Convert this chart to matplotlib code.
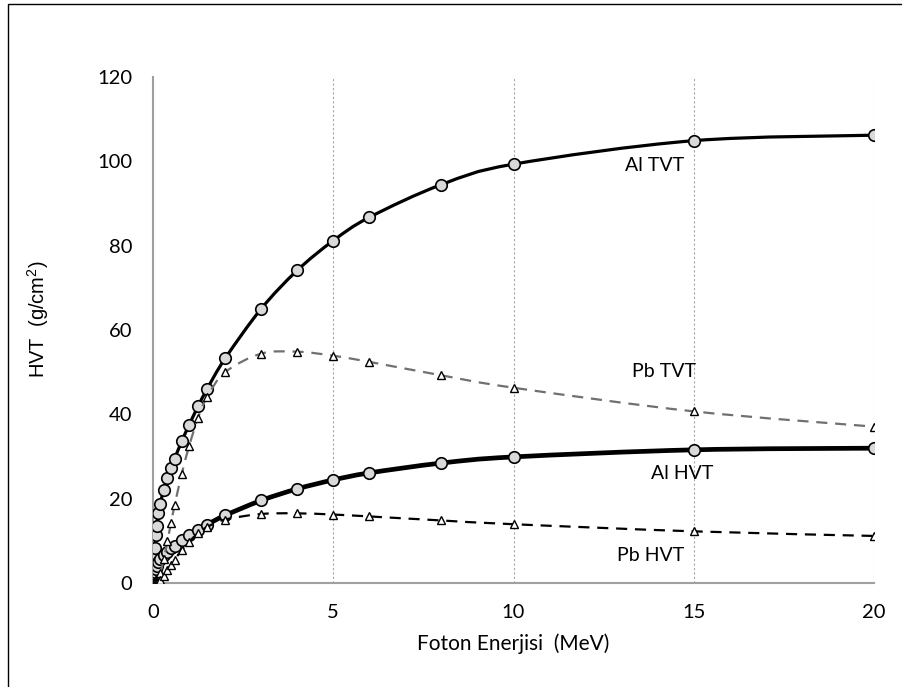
import numpy as np
import matplotlib
matplotlib.use("Agg")
import matplotlib.pyplot as plt
from matplotlib.path import Path
from matplotlib.patches import PathPatch, Rectangle

plt.rcParams["mathtext.fontset"] = "custom"
plt.rcParams["mathtext.rm"] = "Liberation Sans"
plt.rcParams["mathtext.it"] = "Liberation Sans"

# ---- data ----
energy = [0.01, 0.015, 0.02, 0.03, 0.04, 0.05, 0.06, 0.08, 0.1, 0.15, 0.2,
          0.3, 0.4, 0.5, 0.6, 0.8, 1.0, 1.25, 1.5, 2, 3, 4, 5, 6, 8, 10, 15, 20]

al_tvt = [0.09, 0.29, 0.67, 2.04, 4.05, 6.26, 8.29, 11.41, 13.51, 16.71, 18.83,
          22.10, 24.82, 27.27, 29.51, 33.66, 37.46, 41.90, 46.00, 53.25, 65.02,
          74.13, 81.19, 86.72, 94.48, 99.33, 104.90, 106.20]
al_hvt = [0.03, 0.09, 0.20, 0.61, 1.22, 1.88, 2.50, 3.43, 4.07, 5.03, 5.67,
          6.65, 7.47, 8.21, 8.88, 10.13, 11.28, 12.61, 13.85, 16.03, 19.57,
          22.32, 24.44, 26.11, 28.44, 29.90, 31.58, 31.97]
pb_tvt = [0.02, 0.02, 0.03, 0.08, 0.16, 0.29, 0.46, 0.95, 0.42, 1.14, 2.31,
          5.71, 9.91, 14.27, 18.45, 25.96, 32.42, 39.19, 44.09, 49.99, 54.38,
          54.86, 53.90, 52.44, 49.25, 46.31, 40.70, 37.08]
pb_hvt = [0.01, 0.01, 0.01, 0.02, 0.05, 0.09, 0.14, 0.29, 0.13, 0.34, 0.69,
          1.72, 2.98, 4.30, 5.55, 7.81, 9.76, 11.80, 13.27, 15.05, 16.37,
          16.52, 16.23, 15.79, 14.83, 13.94, 12.25, 11.16]

labels = ["Al TVT", "Pb TVT", "Al HVT", "Pb HVT"]
label_pos = [(13.91, 98.9), (14.17, 50.1), (14.67, 26.0), (13.79, 6.6)]

x_ticks = [0, 5, 10, 15, 20]
y_ticks = [0, 20, 40, 60, 80, 100, 120]

FONT = ["Lato", "DejaVu Sans"]


def smooth_path(x, y):
    """Excel-like smoothed line as cubic Bezier segments (Catmull-Rom)."""
    x = np.asarray(x, float)
    y = np.asarray(y, float)
    n = len(x)
    verts = [(x[0], y[0])]
    codes = [Path.MOVETO]
    for i in range(n - 1):
        p0 = np.array([x[max(i - 1, 0)], y[max(i - 1, 0)]])
        p1 = np.array([x[i], y[i]])
        p2 = np.array([x[i + 1], y[i + 1]])
        p3 = np.array([x[min(i + 2, n - 1)], y[min(i + 2, n - 1)]])
        c1 = p1 + (p2 - p0) / 6.0
        c2 = p2 - (p3 - p1) / 6.0
        verts += [tuple(c1), tuple(c2), tuple(p2)]
        codes += [Path.CURVE4] * 3
    return Path(verts, codes)


fig = plt.figure(figsize=(9.03, 6.87), dpi=100)
fig.patch.set_facecolor("white")
ax = fig.add_axes([153 / 903, 1 - 583 / 687, (874 - 153) / 903, (583 - 77) / 687])

# chart-area border (cut off at the right/bottom like the reference)
fig.patches.append(Rectangle((8 / 903, -0.1), 1.2, 1 - 4 / 687 + 0.1,
                             transform=fig.transFigure, fill=False,
                             edgecolor="black", linewidth=1.0, zorder=0))

series = [
    (al_tvt, dict(color="black", lw=2.3, ls="-"), dict(marker="o", ms=8.3, mfc="#d9d9d9", mec="black", mew=1.2), 3),
    (al_hvt, dict(color="black", lw=3.4, ls="-"), dict(marker="o", ms=8.3, mfc="#d9d9d9", mec="black", mew=1.2), 3),
    (pb_tvt, dict(color="#707070", lw=1.6, ls=(0, (5, 3.5))), dict(marker="^", ms=5.5, mfc="white", mec="black", mew=1.0), 5),
    (pb_hvt, dict(color="black", lw=1.6, ls=(0, (5, 3.5))), dict(marker="^", ms=5.5, mfc="white", mec="black", mew=1.0), 5),
]

for vals, lstyle, mstyle, z in series:
    patch = PathPatch(smooth_path(energy, vals), facecolor="none",
                      edgecolor=lstyle["color"], linewidth=lstyle["lw"],
                      linestyle=lstyle["ls"], zorder=z, capstyle="butt")
    ax.add_patch(patch)
    ax.plot(energy, vals, linestyle="none", zorder=z + 0.5, **mstyle)

for txt, (lx, ly) in zip(labels, label_pos):
    ax.text(lx, ly, txt, ha="center", va="center", fontsize=14,
            family=FONT, color="black")

ax.set_xlim(0, 20)
ax.set_ylim(0, 120)
ax.set_xticks(x_ticks)
ax.set_yticks(y_ticks)
ax.set_xticklabels([str(t) for t in x_ticks], fontsize=14.5, family=FONT)
ax.set_yticklabels([str(t) for t in y_ticks], fontsize=14.5, family=FONT)
ax.tick_params(axis="y", length=0, pad=15)
ax.tick_params(axis="x", length=0, pad=15)

for xv in x_ticks[1:]:
    ax.axvline(xv, color="#a6a6a6", lw=0.8, ls=(0, (2, 2)), zorder=1)

for s in ["top", "right"]:
    ax.spines[s].set_visible(False)
for s in ["left", "bottom"]:
    ax.spines[s].set_color("#a0a0a0")
    ax.spines[s].set_linewidth(1.5)
    ax.spines[s].set_zorder(2)

ax.set_xlabel("Foton Enerjisi  (MeV)", fontsize=15, family=FONT, labelpad=9)
fig.text(38 / 903, 1 - 319 / 687, "HVT  (g/cm$^2$)", rotation=90,
         ha="center", va="center", fontsize=14.5,
         family=["Liberation Sans", "DejaVu Sans"])

fig.savefig("out.png", dpi=100, facecolor="white")
